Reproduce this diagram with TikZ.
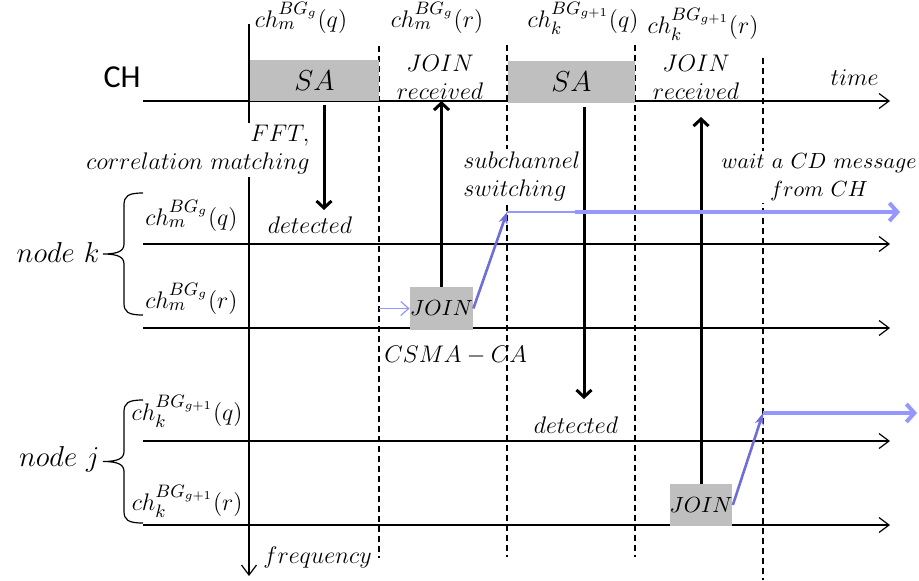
\documentclass[tikz,border=0pt]{standalone}
\usepackage{fontspec}
\newfontfamily\calibri{Carlito}
\usetikzlibrary{arrows.meta,positioning,calc}
\definecolor{lblue}{RGB}{150,150,255}
\definecolor{mblue}{RGB}{110,110,215}

\begin{document}
\begin{tikzpicture}[x=0.5pt, y=-0.5pt,
  slot/.style={rectangle, fill=gray!50, inner sep=0pt, font=\fontsize{10.8}{13}\selectfont},
  lab/.style={font=\fontsize{11.5}{14}\selectfont, inner sep=1pt},
  chlab/.style={font=\fontsize{13}{15}\selectfont, inner sep=0pt},
  axis/.style={line width=0.6pt, -{Straight Barb[length=5pt, width=7.5pt]}},
  border/.style={dash pattern=on 3pt off 2pt, line width=0.6pt},
  sig/.style={line width=1.5pt, -{Straight Barb[length=3.5pt, width=7.5pt]}},
  hop/.style={mblue, line width=1.3pt, -{Stealth[length=6pt, width=4.5pt]}},
  wait/.style={lblue, line width=2pt, -{Straight Barb[length=4pt, width=9pt]}},
  grp/.style={line width=0.6pt}
]
\useasboundingbox (0,0) rectangle (919,580);

% time axes
\coordinate (t0) at (143,101); \coordinate (t1) at (890,101);
\draw[axis] (t0) -- (t1);
\foreach \y/\n in {244/kq, 328/kr, 441/jq, 525/jr} {
  \coordinate (\n0) at (143,\y); \coordinate (\n1) at (890,\y);
  \draw[axis] (\n0) -- (\n1);
}

% slot borders
\foreach \x/\a/\b [count=\i] in {379/46/558, 507/45/557, 635/45/557, 763/58/580} {
  \coordinate (d\i) at (\x,\a); \coordinate (e\i) at (\x,\b);
  \draw[border] (d\i) -- (e\i);
}

% frequency axis
\coordinate (f0) at (249,24); \coordinate (f1) at (249,576);
\draw[axis] (f0) -- (f1);

% slots
\node[slot, minimum width=64.5pt, minimum height=20.5pt, font=\fontsize{14}{16}\selectfont] (sa1) at (314.5,80.5) {$SA$};
\node[slot, minimum width=63.5pt, minimum height=21pt, font=\fontsize{14}{16}\selectfont] (sa2) at (571.5,82) {$SA$};
\node[slot, minimum width=28.5pt, minimum height=21.5pt] (join1) at (441.5,308.5) {$JOIN$};
\node[slot, minimum width=29pt, minimum height=21pt] (join2) at (701,505) {$JOIN$};

% labels
\node[font=\calibri\fontsize{16}{18}\selectfont, anchor=base, inner sep=0pt] (ch) at (122,87) {CH};
\node[lab, anchor=base east] (time) at (881,85) {$time$};
\node[lab, anchor=base west] (freq) at (261,563) {$frequency$};

\node[chlab, anchor=base] (hq) at (301,27) {$ch_m^{BG_g}(q)$};
\node[chlab, anchor=base] (hr) at (437,27) {$ch_m^{BG_g}(r)$};
\node[chlab, anchor=base] (hq2) at (583,27) {$ch_k^{BG_{g+1}}(q)$};
\node[chlab, anchor=base] (hr2) at (703,33) {$ch_k^{BG_{g+1}}(r)$};

\node[chlab, anchor=base east] (kq) at (238,225) {$ch_m^{BG_g}(q)$};
\node[chlab, anchor=base east] (kr) at (238,308) {$ch_m^{BG_g}(r)$};
\node[chlab, anchor=base east] (jq) at (243,420) {$ch_k^{BG_{g+1}}(q)$};
\node[chlab, anchor=base east] (jr) at (243,510) {$ch_k^{BG_{g+1}}(r)$};

% nodes k and j
\foreach \t/\b/\m in {193/315/254, 400/523/461.5} {
  \draw[grp] (143,\t) .. controls (128,\t) and (124,\t+3) .. (124,\t+12)
    -- (124,\m-10) .. controls (124,\m-3) and (118,\m) .. (103,\m)
    .. controls (118,\m) and (124,\m+3) .. (124,\m+10)
    -- (124,\b-12) .. controls (124,\b-3) and (128,\b) .. (143,\b);
}
\node[font=\fontsize{14}{16}\selectfont, anchor=base east, inner sep=1pt] (nk) at (102,262) {$node\ k$};
\node[font=\fontsize{14}{16}\selectfont, anchor=base east, inner sep=1pt] (nj) at (102,466) {$node\ j$};

% notes
\node[lab, align=right, anchor=east, fill=white] (fft) at (312,150) {$FFT,$\\$correlation\ matching$};
\node[lab, align=left, anchor=west, fill=white] (sub) at (461,176) {$subchannel$\\$switching$};
\node[lab, align=center, fill=white, font=\fontsize{10.8}{14}\selectfont] (cd) at (819,177) {$wait\ a\ CD\ message$\\$from\ CH$};
\node[lab, align=center] (rcv1) at (440,77) {$JOIN$\\$received$};
\node[lab, align=center] (rcv2) at (696,77) {$JOIN$\\$received$};
\node[lab, anchor=base] (det1) at (310,233) {$detected$};
\node[lab, anchor=base] (det2) at (576,433) {$detected$};
\node[lab, anchor=base west] (csma) at (382,362) {$CSMA-CA$};

% signalling
\coordinate (det1tip) at (324,210);
\coordinate (det2tip) at (584,399);
\coordinate (rcv2tip) at (700,117);
\draw[sig, shorten <=2pt] (sa1.south -| det1tip) -- (det1tip);
\draw[sig] (join1.north) -- (join1.north |- t0);
\draw[sig, shorten <=2pt] (sa2.south -| det2tip) -- (det2tip);
\draw[sig] (join2.north) -- (join2.north |- rcv2tip);

% channel hopping
\draw[lblue, line width=0.6pt, -{Straight Barb[length=4pt, width=7pt]}] (d1 |- join1.west) -- (join1.west);
\coordinate (s1) at (507,212); \coordinate (s1b) at (575,212); \coordinate (w1) at (900,212);
\coordinate (s2) at (763,413); \coordinate (w2) at (917,413);
\draw[hop] (join1.east) -- (s1);
\draw[lblue, line width=1pt] (s1) -- (s1b);
\draw[wait] (s1b) -- (w1);
\draw[hop] (join2.east) -- (s2);
\draw[wait] (s2) -- (w2);
\end{tikzpicture}
\end{document}
